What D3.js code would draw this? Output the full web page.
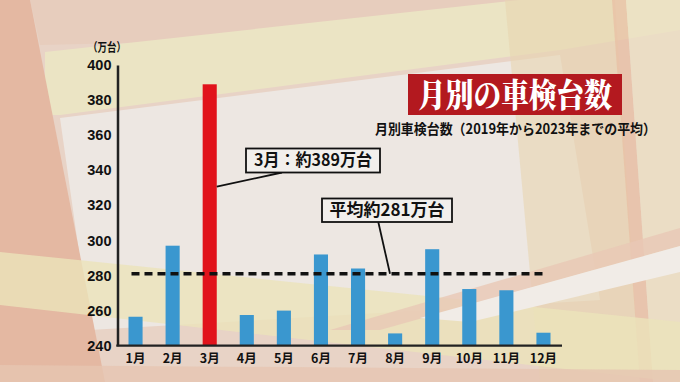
<!DOCTYPE html>
<html><head><meta charset="utf-8">
<script src="https://cdn.jsdelivr.net/npm/d3@7"></script>
<style>
html,body{margin:0;padding:0;background:#e9d6c8;}
svg{display:block;}
</style></head>
<body>
<svg id="chart" width="680" height="382"></svg>
<script>
// ---- data ----
const months = ["1月","2月","3月","4月","5月","6月","7月","8月","9月","10月","11月","12月"];
const values = [256.5, 297, 389, 257.5, 260, 292, 284, 247, 295, 272.3, 271.6, 247.4];
const highlightMonth = "3月";
const average = 281;
const yTicks = [240, 260, 280, 300, 320, 340, 360, 380, 400];
const yDomain = [240, 400];
const unitLabel = "（万台）";
const title = "月別の車検台数";
const subtitle = "月別車検台数（2019年から2023年までの平均）";
const peakLabel = "3月：約389万台";
const avgLabel = "平均約281万台";

const W = 680, H = 382;
const svg = d3.select("#chart");
const CJK = "'Noto Sans CJK JP','Noto Sans',sans-serif";

// ---- background decoration ----
const bg = svg.append("g");
const shapes = [
  {c:"#e8d3c6", p:[[0,0],[680,0],[680,382],[0,382]]},
  {c:"#e7cdbd", p:[[30,0],[680,0],[680,30],[40,45]]},
  {c:"#ebe4c4", p:[[45,52],[520,0],[680,0],[680,30],[560,50],[60,115],[45,115]]},
  {c:"#ede7e2", p:[[60,118],[560,55],[600,300],[90,330]]},
  {c:"#e8d5b0", p:[[505,0],[615,0],[640,382],[540,382]], o:0.6},
  {c:"#e8bea3", p:[[612,0],[626,0],[653,382],[640,382]], o:0.7},
  {c:"#ece1c4", p:[[626,0],[680,0],[680,382],[653,382]], o:0.7},
  {c:"#e4b8a2", p:[[0,0],[30,0],[105,382],[0,382]]},
  {c:"#ebe4ba", p:[[0,252],[680,322],[680,382],[0,305]], o:0.8},
  {c:"#e8c8b5", p:[[330,330],[680,228],[680,246],[380,330]], o:0.8},
  {c:"#f1ece7", p:[[420,318],[680,246],[680,272],[470,322]]},
  {c:"#e6c6b2", p:[[0,365],[680,370],[680,382],[0,382]], o:0.8}
];
shapes.forEach(s => bg.append("polygon")
  .attr("points", s.p.map(d => d.join(",")).join(" "))
  .attr("fill", s.c).attr("opacity", s.o ?? 1));

// ---- scales ----
const x = d3.scaleBand().domain(months).range([117, 562]).paddingInner(0.62).paddingOuter(0.31);
const y = d3.scaleLinear().domain(yDomain).range([345.7, 65]);

// ---- bars ----
svg.append("g").selectAll("rect").data(months).join("rect")
  .attr("x", d => x(d))
  .attr("width", x.bandwidth())
  .attr("y", (d,i) => y(values[i]))
  .attr("height", (d,i) => y(yDomain[0]) - y(values[i]))
  .attr("fill", d => d === highlightMonth ? "#e1131b" : "#3a97cf");

// ---- axes ----
const yAxis = svg.append("g").attr("transform", "translate(117.5,0)")
  .call(d3.axisLeft(y).tickValues(yTicks).tickSize(0).tickPadding(6));
yAxis.select(".domain").attr("stroke", "#222").attr("stroke-width", 2.5);
yAxis.selectAll("text").attr("font-family", "'Liberation Sans',Arial,sans-serif")
  .attr("font-weight", "bold").attr("font-size", 14.5).attr("fill", "#111");

const xAxis = svg.append("g").attr("transform", "translate(0,345.7)")
  .call(d3.axisBottom(x).tickSize(0).tickPadding(8));
xAxis.select(".domain").attr("stroke", "#222").attr("stroke-width", 2.2)
  .attr("d", "M116.3,0H562");
xAxis.selectAll("text").attr("font-family", CJK)
  .attr("font-weight", "bold").attr("font-size", 12.5).attr("fill", "#111");

svg.append("text").attr("x", 88).attr("y", 52).text(unitLabel)
  .attr("font-family", CJK).attr("font-weight", "bold").attr("font-size", 12)
  .attr("fill", "#111").attr("textLength", 38).attr("lengthAdjust", "spacingAndGlyphs");

// ---- average line ----
svg.append("line")
  .attr("x1", x(months[0]) + 3).attr("x2", x(months[11]) + x.bandwidth()/2)
  .attr("y1", y(average)).attr("y2", y(average))
  .attr("stroke", "#111").attr("stroke-width", 3.5).attr("stroke-dasharray", "8,5");

// ---- annotations ----
function callout(label, bx, by, bw, bh, fs, tl, lx1, ly1, lx2, ly2) {
  svg.append("line").attr("x1", lx1).attr("y1", ly1).attr("x2", lx2).attr("y2", ly2)
    .attr("stroke", "#111").attr("stroke-width", 1.8);
  svg.append("rect").attr("x", bx).attr("y", by).attr("width", bw).attr("height", bh)
    .attr("fill", "#f2efec").attr("stroke", "#111").attr("stroke-width", 1.8);
  svg.append("text").attr("x", bx + bw/2).attr("y", by + bh/2 + fs*0.36)
    .attr("text-anchor", "middle").text(label)
    .attr("font-family", CJK).attr("font-weight", "bold").attr("font-size", fs)
    .attr("fill", "#111").attr("textLength", tl).attr("lengthAdjust", "spacingAndGlyphs");
}
callout(peakLabel, 246, 148.5, 134, 24, 16.5, 118,
        x(highlightMonth) + x.bandwidth(), 186.7, 282, 172.5);
callout(avgLabel, 322, 198.5, 130, 23.5, 17, 115,
        378.3, 222, 390, y(average));

// ---- title ----
svg.append("rect").attr("x", 408).attr("y", 74).attr("width", 214).attr("height", 41)
  .attr("fill", "#b3191f");
svg.append("text").attr("x", 515).attr("y", 107).attr("text-anchor", "middle").text(title)
  .attr("font-family", "'Noto Serif CJK JP','Noto Sans CJK JP',serif").attr("font-weight", 900)
  .attr("font-size", 33).attr("fill", "#fff")
  .attr("textLength", 194).attr("lengthAdjust", "spacingAndGlyphs");
svg.append("text").attr("x", 375).attr("y", 133.5).text(subtitle)
  .attr("font-family", CJK).attr("font-weight", "bold").attr("font-size", 14)
  .attr("fill", "#111").attr("textLength", 281).attr("lengthAdjust", "spacingAndGlyphs");
</script>
</body></html>
